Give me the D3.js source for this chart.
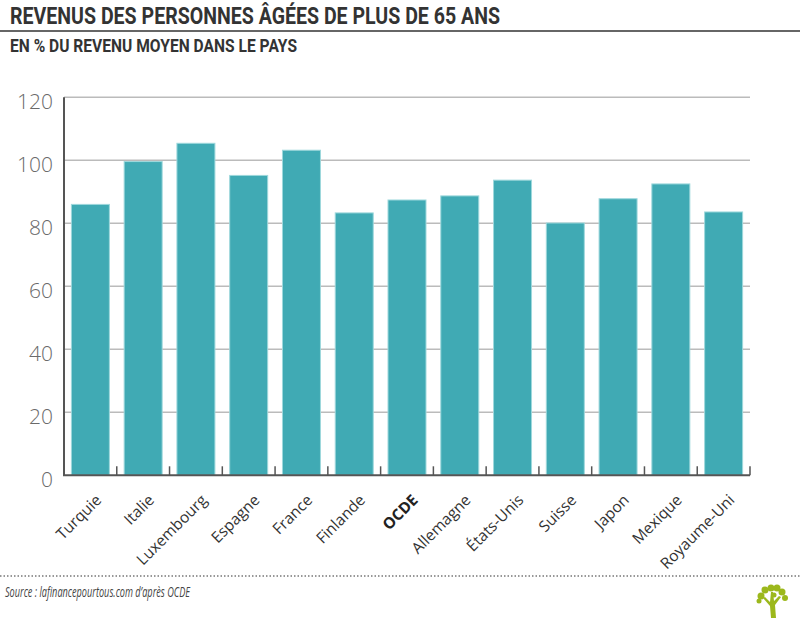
<!DOCTYPE html>
<html>
<head>
<meta charset="utf-8">
<script src="https://cdn.jsdelivr.net/npm/d3@7"></script>
<style>
  body { margin: 0; background: #fff; }
  svg { display: block; }
</style>
</head>
<body>
<div id="chart"></div>
<script>
// Chart data
const countries = ["Turquie", "Italie", "Luxembourg", "Espagne", "France", "Finlande", "OCDE",
  "Allemagne", "États-Unis", "Suisse", "Japon", "Mexique", "Royaume-Uni"];
const values = [86.0, 99.6, 105.4, 95.2, 103.2, 83.3, 87.4, 88.7, 93.7, 80.1, 87.8, 92.5, 83.6];
const yTicks = [0, 20, 40, 60, 80, 100, 120];

const title = "REVENUS DES PERSONNES ÂGÉES DE PLUS DE 65 ANS";
const subtitle = "EN % DU REVENU MOYEN DANS LE PAYS";
const source = "Source : lafinancepourtous.com d’après OCDE";

const width = 800, height = 618;
const plot = { left: 64, right: 750, top: 97.3, bottom: 475.3 };

const svg = d3.select("#chart").append("svg")
  .attr("width", width)
  .attr("height", height);

// Header (condensed look via textLength)
svg.append("text")
  .attr("x", 10).attr("y", 24)
  .attr("textLength", 490)
  .attr("lengthAdjust", "spacingAndGlyphs")
  .style("font-family", "'Roboto', 'Liberation Sans', sans-serif")
  .style("font-weight", "bold")
  .style("font-size", "24px")
  .style("fill", "#333")
  .text(title);

svg.append("line")
  .attr("x1", 0).attr("x2", width)
  .attr("y1", 31).attr("y2", 31)
  .style("stroke", "#666")
  .style("stroke-width", 2);

svg.append("text")
  .attr("x", 10).attr("y", 52)
  .attr("textLength", 287)
  .attr("lengthAdjust", "spacingAndGlyphs")
  .style("font-family", "'Roboto', 'Liberation Sans', sans-serif")
  .style("font-weight", "bold")
  .style("font-size", "17.5px")
  .style("fill", "#333")
  .text(subtitle);

// Scales
const x = d3.scaleBand()
  .domain(countries)
  .range([plot.left, plot.right])
  .paddingInner(0.28)
  .paddingOuter(0.14);

const y = d3.scaleLinear()
  .domain([0, 120])
  .range([plot.bottom, plot.top]);

// Gridlines
svg.append("g")
  .selectAll("line")
  .data(yTicks.filter(d => d > 0))
  .join("line")
  .attr("x1", plot.left).attr("x2", plot.right)
  .attr("y1", d => y(d)).attr("y2", d => y(d))
  .style("stroke", "#bbb")
  .style("stroke-width", 1.5);

// Y labels
svg.append("g")
  .selectAll("text")
  .data(yTicks)
  .join("text")
  .attr("x", 53)
  .attr("y", d => y(d) + 12)
  .attr("text-anchor", "end")
  .style("font-family", "'Open Sans', sans-serif")
  .style("font-weight", 300)
  .style("font-size", "21px")
  .style("fill", "#6a6a6a")
  .text(d => d);

// Bars
svg.append("g")
  .selectAll("rect")
  .data(values)
  .join("rect")
  .attr("x", (d, i) => x(countries[i]))
  .attr("y", d => y(d))
  .attr("width", x.bandwidth())
  .attr("height", d => y(0) - y(d))
  .style("fill", "#40aab4")
  .style("stroke", "#9ed8dc")
  .style("stroke-width", 1);

// Axes
svg.append("line")
  .attr("x1", plot.left).attr("x2", plot.left)
  .attr("y1", plot.top).attr("y2", plot.bottom)
  .style("stroke", "#555")
  .style("stroke-width", 2);

svg.append("line")
  .attr("x1", plot.left - 1).attr("x2", plot.right)
  .attr("y1", plot.bottom).attr("y2", plot.bottom)
  .style("stroke", "#555")
  .style("stroke-width", 2);

// Category separator ticks
const sepTicks = d3.range(1, countries.length + 1).map(i => plot.left + i * x.step());
svg.append("g")
  .selectAll("line")
  .data(sepTicks)
  .join("line")
  .attr("x1", d => d).attr("x2", d => d)
  .attr("y1", plot.bottom - 9).attr("y2", plot.bottom)
  .style("stroke", "#555")
  .style("stroke-width", 1.5);

// X labels
svg.append("g")
  .selectAll("text")
  .data(countries)
  .join("text")
  .attr("transform", d => `translate(${x(d) + x.bandwidth() / 2 + 12}, 501) rotate(-45)`)
  .attr("text-anchor", "end")
  .style("font-family", "'Open Sans', 'Lato', sans-serif")
  .style("font-weight", d => d === "OCDE" ? "bold" : 400)
  .style("font-size", "15.5px")
  .style("fill", d => d === "OCDE" ? "#222" : "#333")
  .text(d => d);

// Footer
svg.append("line")
  .attr("x1", 0).attr("x2", width)
  .attr("y1", 576).attr("y2", 576)
  .style("stroke", "#777")
  .style("stroke-width", 1.5)
  .style("stroke-dasharray", "1.5,2");

svg.append("text")
  .attr("x", 5).attr("y", 597)
  .attr("textLength", 185)
  .attr("lengthAdjust", "spacingAndGlyphs")
  .style("font-family", "'Open Sans', 'Lato', sans-serif")
  .style("font-style", "italic")
  .style("font-size", "14.5px")
  .style("fill", "#444")
  .text(source);

// Small tree logo
const logo = svg.append("g")
  .attr("transform", "translate(772, 600)")
  .style("fill", "#9cb81c");
logo.append("path")
  .attr("d", "M-1,18 L-2,6 L-9,-2 L-7,-3 L-2,2 L-1,-8 L1,-8 L2,1 L7,-4 L9,-3 L3,5 L4,18 Z");
[[-11, -4, 3.5], [-7, -10, 3.5], [-1, -12, 3.5], [5, -12, 3.5], [10, -8, 3.5], [13, -2, 3], [-13, 1, 2.5], [2, -5, 2.5]]
  .forEach(([cx, cy, r]) => logo.append("circle").attr("cx", cx).attr("cy", cy).attr("r", r));
</script>
</body>
</html>
